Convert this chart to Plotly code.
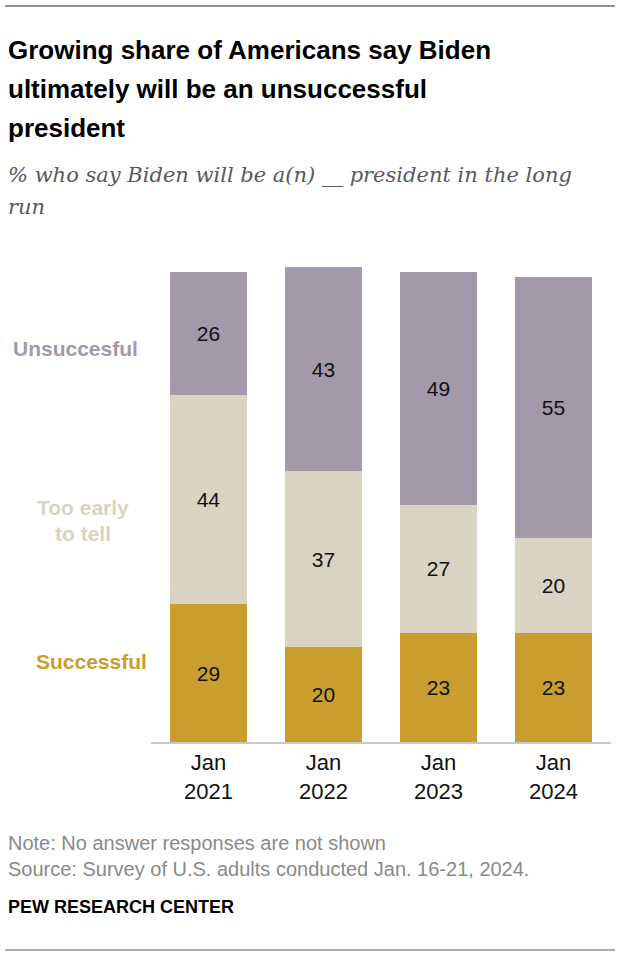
import plotly.graph_objects as go

categories = ["Jan<br>2021", "Jan<br>2022", "Jan<br>2023", "Jan<br>2024"]
successful = [29, 20, 23, 23]
too_early = [44, 37, 27, 20]
unsuccessful = [26, 43, 49, 55]

series_names = ["Successful", "Too early<br>to tell", "Unsuccesful"]
colors = ["#C99D2E", "#D8D4C1", "#A299AB"]

W, H = 620, 958
L, R, T, B = 151, 9, 267, 216
PW, PH = W - L - R, H - T - B


def pxx(x):
    return (x - L) / PW


def pxy(y):
    return (H - B - y) / PH


SANS = "Liberation Sans, Arial, sans-serif"

fig = go.Figure()
for vals, name, col in zip([successful, too_early, unsuccessful], series_names, colors):
    fig.add_trace(go.Bar(
        x=categories, y=vals, name=name, marker=dict(color=col, line=dict(width=0)),
        text=vals, texttemplate="%{text}", textposition="inside", insidetextanchor="middle",
        textfont=dict(family=SANS, size=21, color="#111111"),
        width=0.67, showlegend=False, hoverinfo="skip",
    ))

fig.update_layout(
    barmode="stack",
    width=W, height=H,
    margin=dict(l=L, r=R, t=T, b=B, pad=0),
    paper_bgcolor="white", plot_bgcolor="white",
    xaxis=dict(range=[-0.5, 3.5], showline=True, linecolor="#C8C8C8", linewidth=1.5,
               ticks="", showgrid=False, zeroline=False, fixedrange=True,
               tickfont=dict(family=SANS, size=22, color="#111111")),
    yaxis=dict(range=[0, 100], visible=False, showgrid=False, zeroline=False, fixedrange=True),
)

ann = []
title_font = dict(family=SANS, size=26, color="#000000")
for txt, y in [("<b>Growing share of Americans say Biden</b>", 50),
               ("<b>ultimately will be an unsuccessful</b>", 89),
               ("<b>president</b>", 128)]:
    ann.append(dict(text=txt, x=pxx(6), y=pxy(y), xref="paper", yref="paper",
                    xanchor="left", yanchor="middle", showarrow=False, font=title_font))
sub_font = dict(family="DejaVu Serif, Georgia, serif", size=21, color="#595959")
for txt, y in [("<i>% who say Biden will be a(n) __ president in the long</i>", 175),
               ("<i>run</i>", 207)]:
    ann.append(dict(text=txt, x=pxx(6), y=pxy(y), xref="paper", yref="paper",
                    xanchor="left", yanchor="middle", showarrow=False, font=sub_font))

for txt, x, y, col in [("<b>Unsuccesful</b>", 75, 348, colors[2]),
                       ("<b>Too early</b>", 83, 507, colors[1]),
                       ("<b>to tell</b>", 83, 533, colors[1]),
                       ("<b>Successful</b>", 91, 661, colors[0])]:
    ann.append(dict(text=txt, x=pxx(x), y=pxy(y), xref="paper", yref="paper",
                    xanchor="center", yanchor="middle", showarrow=False,
                    font=dict(family=SANS, size=21, color=col)))

note_font = dict(family=SANS, size=20, color="#8A8A8A")
for txt, y in [("Note: No answer responses are not shown", 843),
               ("Source: Survey of U.S. adults conducted Jan. 16-21, 2024.", 869)]:
    ann.append(dict(text=txt, x=pxx(6), y=pxy(y), xref="paper", yref="paper",
                    xanchor="left", yanchor="middle", showarrow=False, font=note_font))
ann.append(dict(text="<b>PEW RESEARCH CENTER</b>", x=pxx(6), y=pxy(907), xref="paper", yref="paper",
                xanchor="left", yanchor="middle", showarrow=False,
                font=dict(family=SANS, size=18, color="#000000")))
fig.update_layout(annotations=ann)

fig.add_shape(type="line", xref="paper", yref="paper", x0=pxx(5), x1=pxx(615), y0=pxy(6), y1=pxy(6),
              line=dict(color="#6E6E6E", width=1.5))
fig.add_shape(type="line", xref="paper", yref="paper", x0=pxx(5), x1=pxx(615), y0=pxy(950), y1=pxy(950),
              line=dict(color="#8E8E8E", width=1.5))

fig.write_html("out.html", config={"displayModeBar": False},
               post_script="document.body.style.margin='0px';")
